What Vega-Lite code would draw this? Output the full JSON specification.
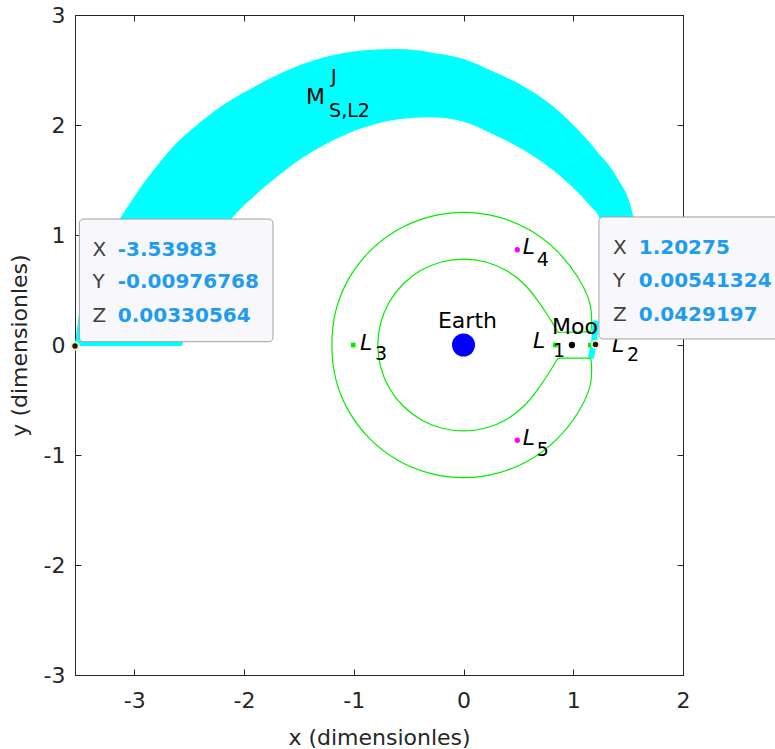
{
  "$schema": "https://vega.github.io/schema/vega-lite/v6.json",
  "width": 608,
  "height": 660,
  "autosize": "none",
  "padding": {"left": 75, "top": 15, "right": 92, "bottom": 74},
  "background": "white",
  "config": {"view": {"stroke": "#262626", "strokeWidth": 1}, "font": "DejaVu Sans"},
  "datasets": {
    "band": [
      {"x": -3.54, "y": 0.0, "y2": -0.01},
      {"x": -3.5, "y": 0.3, "y2": -0.01},
      {"x": -3.42, "y": 0.6, "y2": -0.01},
      {"x": -3.3, "y": 0.88, "y2": -0.01},
      {"x": -3.13, "y": 1.15, "y2": -0.01},
      {"x": -2.9, "y": 1.49, "y2": -0.01},
      {"x": -2.62, "y": 1.83, "y2": -0.01},
      {"x": -2.57, "y": 1.88, "y2": -0.01},
      {"x": -2.5, "y": 1.94, "y2": 0.4},
      {"x": -2.38, "y": 2.04, "y2": 0.75},
      {"x": -2.13, "y": 2.22, "y2": 1.13},
      {"x": -1.9, "y": 2.35, "y2": 1.36},
      {"x": -1.71, "y": 2.45, "y2": 1.52},
      {"x": -1.5, "y": 2.54, "y2": 1.68},
      {"x": -1.25, "y": 2.62, "y2": 1.83},
      {"x": -0.9, "y": 2.68, "y2": 1.98},
      {"x": -0.6, "y": 2.69, "y2": 2.05},
      {"x": -0.3, "y": 2.66, "y2": 2.07},
      {"x": 0.0, "y": 2.6, "y2": 2.03},
      {"x": 0.26, "y": 2.49, "y2": 1.92},
      {"x": 0.55, "y": 2.35, "y2": 1.77},
      {"x": 0.79, "y": 2.19, "y2": 1.61},
      {"x": 1.02, "y": 1.98, "y2": 1.41},
      {"x": 1.15, "y": 1.84, "y2": 1.27},
      {"x": 1.25, "y": 1.72, "y2": 1.13},
      {"x": 1.26, "y": 1.71, "y2": 0.12},
      {"x": 1.4, "y": 1.52, "y2": 0.12},
      {"x": 1.55, "y": 1.16, "y2": 0.12},
      {"x": 1.62, "y": 0.6, "y2": 0.12}
    ],
    "l2bit": [
      {"i": 1, "x": 1.205, "y": 0.22},
      {"i": 2, "x": 1.19, "y": 0.03},
      {"i": 3, "x": 1.16, "y": -0.12}
    ],
    "zvc": [
      {"i": 1, "x": 0.86, "y": 0.115},
      {"i": 2, "x": 0.86, "y": 0.115},
      {"i": 3, "x": 0.8, "y": 0.22},
      {"i": 4, "x": 0.735, "y": 0.32},
      {"i": 5, "x": 0.684, "y": 0.395},
      {"i": 6, "x": 0.559, "y": 0.559},
      {"i": 7, "x": 0.395, "y": 0.684},
      {"i": 8, "x": 0.205, "y": 0.763},
      {"i": 9, "x": 0.0, "y": 0.79},
      {"i": 10, "x": -0.205, "y": 0.763},
      {"i": 11, "x": -0.395, "y": 0.684},
      {"i": 12, "x": -0.559, "y": 0.559},
      {"i": 13, "x": -0.684, "y": 0.395},
      {"i": 14, "x": -0.763, "y": 0.205},
      {"i": 15, "x": -0.79, "y": 0.0},
      {"i": 16, "x": -0.763, "y": -0.205},
      {"i": 17, "x": -0.684, "y": -0.395},
      {"i": 18, "x": -0.559, "y": -0.559},
      {"i": 19, "x": -0.395, "y": -0.684},
      {"i": 20, "x": -0.205, "y": -0.763},
      {"i": 21, "x": 0.0, "y": -0.79},
      {"i": 22, "x": 0.205, "y": -0.763},
      {"i": 23, "x": 0.395, "y": -0.684},
      {"i": 24, "x": 0.559, "y": -0.559},
      {"i": 25, "x": 0.684, "y": -0.395},
      {"i": 26, "x": 0.735, "y": -0.32},
      {"i": 27, "x": 0.8, "y": -0.22},
      {"i": 28, "x": 0.86, "y": -0.12},
      {"i": 29, "x": 0.86, "y": -0.12},
      {"i": 30, "x": 1.16, "y": -0.12},
      {"i": 31, "x": 1.16, "y": -0.12},
      {"i": 32, "x": 1.17, "y": -0.2},
      {"i": 33, "x": 1.165, "y": -0.32},
      {"i": 34, "x": 1.146, "y": -0.417},
      {"i": 35, "x": 1.057, "y": -0.61},
      {"i": 36, "x": 0.863, "y": -0.863},
      {"i": 37, "x": 0.61, "y": -1.057},
      {"i": 38, "x": 0.316, "y": -1.178},
      {"i": 39, "x": 0.0, "y": -1.22},
      {"i": 40, "x": -0.316, "y": -1.178},
      {"i": 41, "x": -0.61, "y": -1.057},
      {"i": 42, "x": -0.863, "y": -0.863},
      {"i": 43, "x": -1.057, "y": -0.61},
      {"i": 44, "x": -1.178, "y": -0.316},
      {"i": 45, "x": -1.21, "y": 0.0},
      {"i": 46, "x": -1.178, "y": 0.316},
      {"i": 47, "x": -1.057, "y": 0.61},
      {"i": 48, "x": -0.863, "y": 0.863},
      {"i": 49, "x": -0.61, "y": 1.057},
      {"i": 50, "x": -0.316, "y": 1.178},
      {"i": 51, "x": 0.0, "y": 1.22},
      {"i": 52, "x": 0.316, "y": 1.178},
      {"i": 53, "x": 0.61, "y": 1.057},
      {"i": 54, "x": 0.863, "y": 0.863},
      {"i": 55, "x": 1.057, "y": 0.61},
      {"i": 56, "x": 1.146, "y": 0.417},
      {"i": 57, "x": 1.165, "y": 0.32},
      {"i": 58, "x": 1.17, "y": 0.2},
      {"i": 59, "x": 1.16, "y": 0.12},
      {"i": 60, "x": 1.16, "y": 0.12},
      {"i": 61, "x": 0.86, "y": 0.115},
      {"i": 62, "x": 0.86, "y": 0.115}
    ],
    "greenpts": [
      {"x": 0.837, "y": 0.0},
      {"x": 1.156, "y": 0.0},
      {"x": -1.005, "y": 0.0}
    ],
    "magpts": [
      {"x": 0.49, "y": 0.866},
      {"x": 0.49, "y": -0.866}
    ],
    "earth": [{"x": 0.0, "y": 0.0}],
    "moon": [{"x": 0.988, "y": 0.0}],
    "plainlabels": [
      {"x": -1.435, "y": 2.19, "t": "M"},
      {"x": 0.806, "y": 0.1, "t": "Moon"}
    ],
    "earthlabel": [{"x": 0.036, "y": 0.156, "t": "Earth"}],
    "italicL": [
      {"x": 0.633, "y": -0.023, "t": "L"},
      {"x": 1.353, "y": -0.06, "t": "L"},
      {"x": -0.943, "y": -0.041, "t": "L"},
      {"x": 0.539, "y": 0.823, "t": "L"},
      {"x": 0.539, "y": -0.905, "t": "L"}
    ],
    "subs": [
      {"x": 0.815, "y": -0.105, "t": "1"},
      {"x": 1.49, "y": -0.141, "t": "2"},
      {"x": -0.806, "y": -0.132, "t": "3"},
      {"x": 0.667, "y": 0.714, "t": "4"},
      {"x": 0.667, "y": -1.011, "t": "5"},
      {"x": -1.207, "y": 2.386, "t": "J"},
      {"x": -1.225, "y": 2.077, "t": "S,L2"}
    ],
    "boxes": [
      {"x": -3.5, "x2": -1.736, "y": 1.145, "y2": 0.03},
      {"x": 1.234, "x2": 3.0, "y": 1.164, "y2": 0.055}
    ],
    "tiplabels": [
      {"x": -3.38, "y": 0.868, "t": "X"},
      {"x": -3.38, "y": 0.571, "t": "Y"},
      {"x": -3.38, "y": 0.262, "t": "Z"},
      {"x": 1.362, "y": 0.88, "t": "X"},
      {"x": 1.362, "y": 0.58, "t": "Y"},
      {"x": 1.362, "y": 0.277, "t": "Z"}
    ],
    "tipvalues": [
      {"x": -3.15, "y": 0.868, "t": "-3.53983"},
      {"x": -3.15, "y": 0.571, "t": "-0.00976768"},
      {"x": -3.15, "y": 0.262, "t": "0.00330564"},
      {"x": 1.597, "y": 0.88, "t": "1.20275"},
      {"x": 1.597, "y": 0.58, "t": "0.00541324"},
      {"x": 1.597, "y": 0.277, "t": "0.0429197"}
    ],
    "tips": [
      {"x": -3.53983, "y": -0.00976768},
      {"x": 1.20275, "y": 0.00541324}
    ]
  },
  "encoding": {
    "x": {"field": "x", "type": "quantitative", "scale": {"domain": [-3.54, 2], "nice": false, "zero": false}, "axis": null},
    "y": {"field": "y", "type": "quantitative", "scale": {"domain": [-3, 3], "nice": false, "zero": false}, "axis": null}
  },
  "resolve": {"axis": {"x": "independent", "y": "independent"}},
  "layer": [
    {
      "data": {"name": "band"},
      "mark": {"type": "area", "color": "#00ffff", "opacity": 1, "interpolate": "monotone"},
      "encoding": {
        "x": {"field": "x", "type": "quantitative", "scale": {"domain": [-3.54, 2], "nice": false, "zero": false},
          "axis": {"orient": "bottom", "values": [-3, -2, -1, 0, 1, 2], "title": "x (dimensionles)", "grid": false,
            "labelExpr": "datum.value < 0 ? '-' + abs(datum.value) : '' + datum.value",
            "tickSize": -6, "labelPadding": 21, "labelFontSize": 22, "labelFont": "DejaVu Sans", "labelColor": "#262626",
            "labelFlush": false, "labelOverlap": false,
            "titleFontSize": 22, "titleFont": "DejaVu Sans", "titleFontWeight": "normal", "titleColor": "#262626", "titlePadding": 16,
            "domainColor": "#262626", "tickColor": "#262626"}},
        "y": {"field": "y", "type": "quantitative", "scale": {"domain": [-3, 3], "nice": false, "zero": false},
          "axis": {"orient": "left", "values": [-3, -2, -1, 0, 1, 2, 3], "title": "y (dimensionles)", "grid": false,
            "labelExpr": "datum.value < 0 ? '-' + abs(datum.value) : '' + datum.value",
            "tickSize": -6, "labelPadding": 16, "labelFontSize": 22, "labelFont": "DejaVu Sans", "labelColor": "#262626",
            "labelFlush": false, "labelOverlap": false,
            "titleFontSize": 22, "titleFont": "DejaVu Sans", "titleFontWeight": "normal", "titleColor": "#262626", "titlePadding": 12,
            "domainColor": "#262626", "tickColor": "#262626"}},
        "y2": {"field": "y2"}
      }
    },
    {
      "data": {"name": "zvc"},
      "mark": {"type": "line", "color": "#00ee00", "strokeWidth": 1.2, "interpolate": "basis"},
      "encoding": {
        "x": {"field": "x", "type": "quantitative", "scale": {"domain": [-3.54, 2], "nice": false, "zero": false},
          "axis": {"orient": "top", "values": [-3, -2, -1, 0, 1, 2], "labels": false, "title": null, "grid": false,
            "tickSize": -6, "domainColor": "#262626", "tickColor": "#262626"}},
        "y": {"field": "y", "type": "quantitative", "scale": {"domain": [-3, 3], "nice": false, "zero": false},
          "axis": {"orient": "right", "values": [-3, -2, -1, 0, 1, 2, 3], "labels": false, "title": null, "grid": false,
            "tickSize": -6, "domainColor": "#262626", "tickColor": "#262626"}},
        "order": {"field": "i", "type": "quantitative"}
      }
    },
    {
      "data": {"name": "l2bit"},
      "mark": {"type": "line", "color": "#00ffff", "strokeWidth": 6},
      "encoding": {"order": {"field": "i", "type": "quantitative"}}
    },
    {
      "data": {"name": "earth"},
      "mark": {"type": "circle", "size": 530, "color": "#0000ff", "opacity": 1}
    },
    {
      "data": {"name": "moon"},
      "mark": {"type": "circle", "size": 40, "color": "#000000", "opacity": 1}
    },
    {
      "data": {"name": "greenpts"},
      "mark": {"type": "square", "size": 22, "color": "#00ee00", "opacity": 1}
    },
    {
      "data": {"name": "magpts"},
      "mark": {"type": "circle", "size": 28, "color": "#ff00ff", "opacity": 1}
    },
    {
      "data": {"name": "plainlabels"},
      "mark": {"type": "text", "align": "left", "baseline": "alphabetic", "fontSize": 22, "font": "DejaVu Sans", "color": "#000000"},
      "encoding": {"text": {"field": "t"}}
    },
    {
      "data": {"name": "earthlabel"},
      "mark": {"type": "text", "align": "center", "baseline": "alphabetic", "fontSize": 22, "font": "DejaVu Sans", "color": "#000000"},
      "encoding": {"text": {"field": "t"}}
    },
    {
      "data": {"name": "italicL"},
      "mark": {"type": "text", "align": "left", "baseline": "alphabetic", "fontSize": 22, "fontStyle": "italic", "font": "DejaVu Sans", "color": "#000000"},
      "encoding": {"text": {"field": "t"}}
    },
    {
      "data": {"name": "subs"},
      "mark": {"type": "text", "align": "left", "baseline": "alphabetic", "fontSize": 19, "font": "DejaVu Sans", "color": "#000000"},
      "encoding": {"text": {"field": "t"}}
    },
    {
      "data": {"name": "boxes"},
      "mark": {"type": "rect", "fill": "#f8f8fc", "stroke": "#a0a0a0", "strokeWidth": 1, "cornerRadius": 4},
      "encoding": {"x2": {"field": "x2"}, "y2": {"field": "y2"}}
    },
    {
      "data": {"name": "tiplabels"},
      "mark": {"type": "text", "align": "left", "baseline": "middle", "fontSize": 20, "font": "DejaVu Sans", "color": "#404040"},
      "encoding": {"text": {"field": "t"}}
    },
    {
      "data": {"name": "tipvalues"},
      "mark": {"type": "text", "align": "left", "baseline": "middle", "fontSize": 20, "fontWeight": "bold", "font": "DejaVu Sans", "color": "#1f9cf0"},
      "encoding": {"text": {"field": "t"}}
    },
    {
      "data": {"name": "tips"},
      "mark": {"type": "circle", "size": 55, "fill": "#1a1a1a", "stroke": "#f2eeb8", "strokeWidth": 2, "opacity": 1}
    }
  ]
}
